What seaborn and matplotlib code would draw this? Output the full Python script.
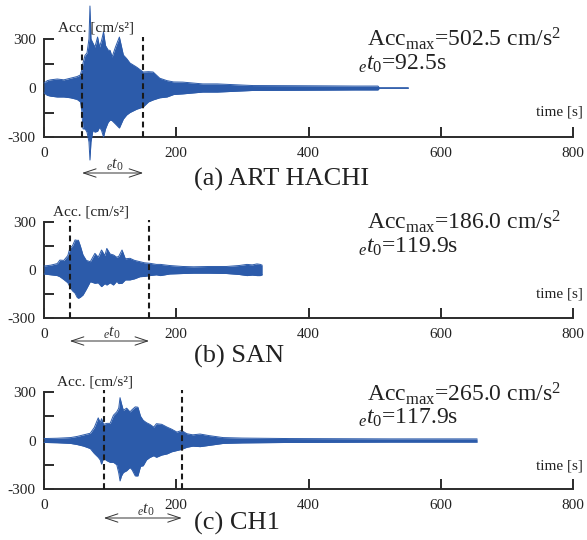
import matplotlib
matplotlib.use("Agg")
import matplotlib.pyplot as plt
import matplotlib.transforms as mtransforms
import pandas as pd
import seaborn as sns

# ---------------- data ----------------
# envelope of the acceleration records (upper / lower), cm/s^2
a_time = [0, 5, 10, 20, 30, 40, 50, 55, 57, 59, 62, 65, 68, 69.5, 71, 74, 77, 81, 84, 87,
          90, 93, 97, 100, 103, 108, 114, 120, 125, 130, 140, 150, 158, 165, 175, 186, 196,
          210, 240, 262, 316, 380, 430, 470, 493, 505, 507, 551]
a_upper = [30, 45, 50, 55, 50, 60, 70, 80, 110, 153, 200, 214, 300, 502, 300, 275, 250, 312, 251, 290,
           343, 260, 232, 230, 190, 250, 312, 202, 180, 153, 128, 98, 100, 98, 60, 45, 37,
           36, 25, 25, 15, 14, 13, 12, 12, 12, 2, 2]
a_lower = [-30, -45, -50, -55, -55, -60, -70, -85, -135, -250, -250, -270, -330, -441, -330, -260, -270, -265, -240, -260,
           -300, -250, -210, -196, -200, -220, -245, -190, -165, -150, -130, -116, -85, -73, -60, -55, -40,
           -36, -25, -25, -15, -14, -13, -12, -12, -12, -2, -2]

b_time = [0, 10, 20, 24, 30, 36, 39, 43, 47, 50, 52, 55, 59, 64, 70, 77, 82, 87, 92, 95,
          100, 105, 110, 113, 118, 123, 130, 137, 145, 152, 160, 170, 176, 190, 210, 226,
          250, 276, 295, 307, 315, 322, 327, 330]
b_upper = [25, 30, 40, 62, 60, 90, 135, 150, 188, 185, 186, 150, 94, 60, 52, 104, 80, 125, 90, 135,
           100, 94, 80, 85, 125, 70, 73, 60, 52, 45, 42, 35, 35, 28, 22, 20,
           22, 22, 28, 35, 32, 38, 35, 30]
b_lower = [-25, -30, -35, -42, -60, -80, -104, -130, -145, -170, -177, -170, -156, -120, -73, -83, -80, -104, -85, -94,
           -80, -94, -70, -85, -83, -62, -62, -55, -42, -40, -35, -30, -35, -25, -22, -20,
           -20, -22, -28, -35, -32, -35, -35, -30]

c_time = [0, 20, 40, 50, 60, 70, 76, 82, 85, 87, 90, 95, 100, 105, 110, 113, 115, 117, 120, 125,
          130, 133, 138, 142, 146, 150, 155, 160, 166, 170, 178, 186, 193, 201, 208, 216,
          225, 236, 250, 271, 300, 372, 450, 523, 600, 655]
c_upper = [12, 14, 18, 25, 35, 45, 80, 140, 110, 135, 100, 106, 106, 156, 177, 200, 265, 230, 187, 200,
           177, 190, 208, 206, 150, 125, 110, 100, 83, 104, 100, 83, 70, 52, 62, 42,
           35, 40, 30, 18, 15, 12, 11, 10, 10, 10]
c_lower = [-12, -14, -18, -25, -35, -50, -80, -104, -120, -146, -110, -125, -135, -135, -150, -200, -250, -220, -198, -187,
           -167, -180, -219, -219, -160, -156, -120, -105, -94, -104, -90, -83, -70, -62, -55, -42,
           -35, -38, -30, -18, -15, -12, -11, -10, -10, -10]

panel_titles = ["(a) ART HACHI", "(b) SAN", "(c) CH1"]
acc_max = [502.5, 186.0, 265.0]
et0_values = [92.5, 119.9, 117.9]
et0_start = [57.5, 39.0, 90.5]

x_ticks = [0, 200, 400, 600, 800]
x_tick_labels = ["0", "200", "400", "600", "800"]
y_ticks = [-300, -150, 0, 150, 300]
y_tick_labels = ["-300", "", "0", "", "300"]

series = [(a_time, a_upper, a_lower), (b_time, b_upper, b_lower), (c_time, c_upper, c_lower)]

# ---------------- style ----------------
sns.set_style("ticks")
plt.rcParams["font.family"] = ["Liberation Serif", "DejaVu Serif"]
plt.rcParams["mathtext.fontset"] = "custom"
plt.rcParams["mathtext.rm"] = "Liberation Serif"
plt.rcParams["mathtext.it"] = "Liberation Serif:italic"
plt.rcParams["mathtext.bf"] = "Liberation Serif:bold"

BLUE = "#2C5BAA"
DARK = "#2b2b2b"

W, H = 587, 540
fig = plt.figure(figsize=(W / 100, H / 100), dpi=100)


def fx(p):
    return p / W


def fy(p):
    return 1 - p / H


# layout in pixels: (y of +300, y of -300)
panel_px = [(39, 137), (222, 318), (392, 489)]
left_px, right_px = 44, 573
acc_lbl = [(58, 32), (53, 215), (57, 385)]
time_lbl = [116, 297, 469]
info_px = [(46, 70), (229, 253), (401, 424)]
arrow_px = [173, 341, 518]
caption_px = [186, 363, 530]

for i, (t, up, lo) in enumerate(series):
    top, bot = panel_px[i]
    ax = fig.add_axes([fx(left_px), fy(bot), (right_px - left_px) / W, (bot - top) / H])
    df = pd.DataFrame({"time": t, "upper": up, "lower": lo})

    ax.fill_between(df["time"], df["lower"], df["upper"], color=BLUE, lw=0, clip_on=False, zorder=2)
    sns.lineplot(data=df, x="time", y="upper", ax=ax, color=BLUE, lw=0.7, sort=False,
                 estimator=None, clip_on=False, zorder=2)
    sns.lineplot(data=df, x="time", y="lower", ax=ax, color=BLUE, lw=0.7, sort=False,
                 estimator=None, clip_on=False, zorder=2)

    ax.set_xlim(0, 800)
    ax.set_ylim(-300, 300)
    ax.set_xlabel("")
    ax.set_ylabel("")
    ax.set_xticks(x_ticks)
    ax.set_xticklabels(x_tick_labels)
    ax.set_yticks(y_ticks)
    ax.set_yticklabels(y_tick_labels)
    for s in ["top", "right"]:
        ax.spines[s].set_visible(False)
    for s in ["left", "bottom"]:
        ax.spines[s].set_linewidth(1.4)
        ax.spines[s].set_color(DARK)
        ax.spines[s].set_zorder(1)
    ax.tick_params(axis="both", direction="in", length=7.5, width=1.4, color=DARK,
                   labelsize=11, labelcolor="#222222")
    ax.tick_params(axis="y", pad=6)
    ax.tick_params(axis="x", pad=7)
    ax.patch.set_alpha(0)

    s0 = et0_start[i]
    s1 = s0 + et0_values[i]
    ax.vlines([s0, s1], -300, 312, colors="#1a1a1a", linestyles=(0, (2.8, 1.8)), lw=1.5,
              clip_on=False, zorder=5)

    trans = mtransforms.blended_transform_factory(ax.transData, fig.transFigure)
    ax.annotate("", xy=(s0, fy(arrow_px[i])), xytext=(s1, fy(arrow_px[i])),
                xycoords=trans, textcoords=trans,
                arrowprops=dict(arrowstyle="<->,head_length=0.9,head_width=0.3", lw=0.7,
                                color="#333333", shrinkA=0, shrinkB=0), annotation_clip=False)
    ax.text((s0 + s1) / 2 + 4, fy(arrow_px[i] - 4), r"${}_{e}t_{0}$", transform=trans,
            ha="center", va="baseline", fontsize=12, color="#333333")

    fig.text(fx(acc_lbl[i][0]), fy(acc_lbl[i][1]), "Acc. [cm/s²]", ha="left", va="baseline",
             fontsize=11, color="#222222")
    fig.text(fx(583), fy(time_lbl[i]), "time [s]", ha="right", va="baseline", fontsize=11,
             color="#222222")
    fig.text(fx(367), fy(info_px[i][0]),
             r"Acc$_{\mathrm{max}}$=" + f"{acc_max[i]:.1f}" + r" cm/s$^{2}$",
             ha="left", va="baseline", fontsize=17, color="#222222")
    fig.text(fx(358), fy(info_px[i][1]),
             r"${}_{e}t_{0}$=" + f"{et0_values[i]:.1f}s",
             ha="left", va="baseline", fontsize=17, color="#222222")
    fig.text(fx(194), fy(caption_px[i]), panel_titles[i], ha="left", va="baseline",
             fontsize=19, color="#222222")

fig.savefig("out.png", dpi=100)
